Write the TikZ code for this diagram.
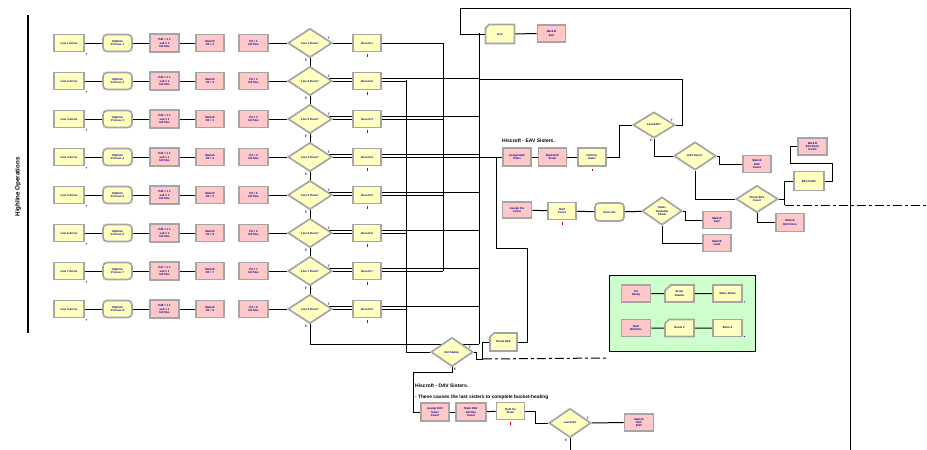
\documentclass[tikz,border=0pt]{standalone}
\usepackage{fontspec}
\setmainfont{Liberation Sans}
\usetikzlibrary{shapes.geometric,shapes.misc,calc}
\definecolor{ayel}{RGB}{255,255,192}
\definecolor{apink}{RGB}{255,200,200}
\definecolor{agreen}{RGB}{204,255,204}
\definecolor{ablue}{RGB}{0,0,140}
\definecolor{aedge}{RGB}{165,165,165}
\definecolor{ared}{RGB}{200,0,0}
\tikzset{
 mod/.style={draw=aedge, line width=1.7pt, minimum width=28pt, minimum height=17pt, inner sep=0pt, align=center, text=ablue, font=\bfseries\fontsize{2.8}{3.2}\selectfont},
 ybox/.style={mod, fill=ayel},
 pbox/.style={mod, fill=apink},
 rbox/.style={ybox, rounded corners=4pt},
 cbox/.style={ybox, chamfered rectangle, chamfered rectangle corners=north west, chamfered rectangle xsep=3pt, chamfered rectangle ysep=3pt},
 ydia/.style={mod, fill=ayel, diamond, aspect=1.5, minimum width=44pt, minimum height=29pt},
 wire/.style={line width=1pt, black},
 ddash/.style={wire, dash pattern=on 9pt off 3pt on 3pt off 3pt},
 tf/.style={font=\bfseries\fontsize{3.2}{3.2}\selectfont, text=ablue, inner sep=0pt},
 note/.style={font=\bfseries\fontsize{5}{6}\selectfont, anchor=west, inner sep=0pt},
 tick/.style={ared, line width=0.7pt},
}
\begin{document}
\begin{tikzpicture}[x=1pt,y=-1pt]
\useasboundingbox (0,0) rectangle (927,450);
% left marker
\coordinate (lt) at (28,15); \coordinate (lb) at (28,333);
\draw[line width=2pt] (lt) -- (lb);
\node[rotate=90, font=\bfseries\fontsize{6.2}{7}\selectfont] (title) at (18,187) {Highline Operations};
% buses
\coordinate (busA) at (443,43);
\coordinate (busB) at (406,80);
\coordinate (busC) at (479,33);
% rows
\foreach \i [evaluate=\i as \y using {43+38*(\i-1)}] in {1,...,8} {
 \node[ybox, minimum width=30pt] (b1-\i) at (69,\y) {Line \i\ Arrive};
 \fill[ablue] ($(b1-\i.south east)+(1.5,1.5)$) circle (0.7pt);
 \node[rbox, minimum width=29pt] (b2-\i) at (117.5,\y) {Highline\\Process \i};
 \node[pbox, minimum width=29pt, minimum height=18pt] (b3-\i) at (164.5,\y) {Pd\i\ = 1 1\\sub 1 1\\bill files};
 \node[pbox] (b4-\i) at (210,\y) {Mark B\\Pd = \i};
 \node[pbox, minimum width=29pt] (b5-\i) at (253.5,\y) {Pd = \i\\bill files};
 \node[ydia] (d-\i) at (310,\y) {Line \i\ Done?};
 \node[ybox] (b6-\i) at (367,\y) {Record \i};
 \draw[tick] ($(b6-\i.south)+(0,2)$) -- ++(0,2.5);
 \node[tf] at ($(d-\i.east)+(-4,-5)$) {T};
 \node[tf] at ($(d-\i.east)+(1,-2)$) {-};
 \node[tf] at ($(d-\i.south)+(-4,2)$) {F};
 \node[tf] at ($(d-\i.south)+(2,2.5)$) {-};
 \draw[wire] (b1-\i) -- (b2-\i);
 \draw[wire] (b2-\i) -- (b3-\i);
 \draw[wire] (b3-\i) -- (b4-\i);
 \draw[wire] (b5-\i) -- (d-\i);
 \draw[wire] (d-\i.east) -- (b6-\i.west);
 \draw[wire] (d-\i.south) -- ++(0,20) coordinate (f-\i) -- (f-\i -| busC);
}
\foreach \i/\bb in {1/busA,2/busB,3/busA,5/busA,6/busB,7/busA,8/busB} {
 \draw[wire] (b6-\i.east) -- (b6-\i.east -| \bb);
}
% top section
\node[cbox, minimum width=29pt, minimum height=19pt] (tb) at (500,34) {Exit};
\node[pbox, minimum height=17pt] (tp) at (551.5,33.5) {Mark B\\Exit};
\draw[wire] (tb) -- (tp);
\coordinate (tl) at (460,8); \coordinate (tr) at (850,8); \coordinate (br) at (850,450);
\draw[wire] (tb.west) -- (tb.west -| tl) -- (tl) -- (tr) -- (br);
% EAV section
\node[note] (eavt) at (502,141) {Hiscroft - EAV Sisters.};
\node[pbox, minimum height=18pt] (pE1) at (517,157) {Assign EAV\\Sister};
\node[pbox, minimum height=18pt] (pE2) at (552.5,157) {Mark EAV\\Sister};
\node[ybox, minimum height=18pt] (yE) at (592,157) {Hold for\\Sister};
\draw[tick] ($(yE.south)+(0,2)$) -- ++(0,2.5);
\node[ydia, minimum width=42pt, minimum height=26pt] (dA) at (654,125) {Last EAV?};
\node[tf] at ($(dA.east)+(-4,-5)$) {T};
\node[tf] at ($(dA.south)+(-3,2)$) {F};
\node[ydia, minimum width=42pt, minimum height=28pt] (dB) at (695,156) {EAV Done?};
\node[pbox, minimum height=17pt] (pF) at (757,164) {Mark B\\EAV\\Count};
\node[ydia, minimum width=42pt, minimum height=27pt] (dC) at (757,199) {Check EAV\\Count};
\node[ybox, minimum width=30pt, minimum height=19pt] (yG) at (809,181) {Batch EAV};
\node[pbox, minimum width=29pt, minimum height=17pt] (pG) at (812.5,146.5) {Mark B\\EAV Done\\Count};
\node[pbox, minimum height=18pt] (pH) at (790,222.5) {Mark B\\EAV Done};
\draw[wire] (busA) -- (b6-7.east -| busA);
\draw[wire] (busB) -- (busB |- 0,352) coordinate (bb2);
\draw[wire] (busC) -- (f-8 -| busC);
\draw[wire] (b6-4.east) -- (pE1.west);
\draw[wire] (pE1) -- (pE2);
\draw[wire] (pE2) -- (yE);
\draw[wire] (yE.east) -- ++(13,0) |- (dA.west);
\coordinate (lp) at (682,79);
\draw[wire] (busC |- lp) -- (lp) |- (dA.east);
\draw[wire] (dA.south) |- (dB.west);
\draw[wire] (dB.east) -- ++(3,0) -- ++(0,6) |- (pF.west);
\draw[wire] (dB.south) |- (dC.west);
\draw[wire] (dC.east) -- ++(6,0) coordinate (cx) -- ++(0,-18) -- (yG.west);
\draw[wire] (yG.east) -- ++(8,0) -- ++(0,-18) -- ++(-42,0) |- (pG.west);
\draw[wire] (dC.south) |- (pH.west);
\coordinate (dash1) at (927,205);
\draw[wire] (cx) -- ++(0,6) coordinate (cy);
\draw[ddash] (cy) -- (dash1);
% lower EAV row
\node[pbox, minimum width=29pt, minimum height=16pt] (pI) at (517,210) {Assign Sis\\Count};
\node[ybox, minimum height=17pt] (yI) at (562,211) {Hold\\Count};
\draw[tick] ($(yI.south)+(0,2)$) -- ++(0,2.5);
\node[rbox, minimum width=29pt, minimum height=18pt] (rI) at (609.5,212) {Seize Sis};
\node[ydia, minimum width=40pt, minimum height=28pt] (dD) at (662,211) {Sister\\Available\\Check};
\node[pbox, minimum height=17pt] (pJ) at (717,220) {Mark B\\EAV};
\node[pbox, minimum height=17pt] (pK) at (717,243) {Mark B\\Used};
\draw[wire] (pI) -- (yI);
\draw[wire] (yI) -- (rI);
\draw[wire] (rI) -- (dD);
\draw[wire] (dD.east) -- ++(3,0) -- ++(0,7) |- (pJ.west);
\draw[wire] (dD.south) |- (pK.west);
% loop back
\node[cbox, minimum width=27pt, minimum height=18pt] (yL) at (503.5,342) {Route EAV};
\coordinate (lq) at (496,157);
\coordinate (lr) at (527,248);
\draw[wire] (yL.east) -| (lr) -| (lq);
% green box
\node[draw=black, line width=1pt, fill=agreen, minimum width=146pt, minimum height=76pt, inner sep=0pt] (grn) at (682.5,313.5) {};
\foreach \j/\yy/\ta/\tb/\tc in {1/293.5/{Sis\\Ready}/{Sister\\Station}/{Sister Route},2/328/{Start\\Bill Files}/{Route 2}/{Enter 2}} {
 \node[pbox, minimum width=29pt, minimum height=17pt] (gp\j) at (636,\yy) {\ta};
 \node[cbox, minimum width=29pt, minimum height=17pt] (gy\j) at (679.5,\yy) {\tb};
 \node[ybox, minimum width=29pt, minimum height=17pt] (gz\j) at (727.5,\yy) {\tc};
 \fill[ablue] ($(gz\j.south east)+(1.5,-1)$) circle (0.6pt);
 \draw[wire] (gp\j) -- (gy\j);
 \draw[wire] (gy\j) -- (gz\j);
}
% DAV section
\node[ydia, minimum width=42pt, minimum height=29pt] (dE) at (452,352) {Ret Station};
\node[tf] at ($(dE.east)+(-4,-5)$) {T};
\node[tf] at ($(dE.south)+(3,2)$) {F};
\draw[wire] (bb2) -- (dE.west);
\draw[wire] (dE.east) -- ++(3,0) -- ++(0,7) coordinate (ex) -- ++(6,0) coordinate (ey) |- (yL.west);
\coordinate (dash2) at (607,358);
\draw[ddash] (ey) -- (dash2);
\node[note] (davt) at (415,386) {Hiscroft - DAV Sisters.};
\node[note, font=\bfseries\fontsize{4.8}{5}\selectfont] (davn) at (415,397) {- These causes the last sisters to complete bucket-heating};
\node[pbox, minimum width=28pt, minimum height=18pt] (pL) at (435,412) {Assign DAV\\Sister\\Count};
\node[pbox, minimum width=30pt, minimum height=18pt] (pM) at (471,412) {Mark DAV\\bill files\\Count};
\node[ybox, minimum width=28pt, minimum height=17pt] (yM) at (510.5,411) {Hold for\\Sister};
\draw[tick] ($(yM.south)+(0,2)$) -- ++(0,2.5);
\node[ydia, minimum width=42pt, minimum height=29pt] (dF) at (570,423) {Last DAV};
\node[tf] at ($(dF.east)+(-4,-5)$) {T};
\node[tf] at ($(dF.south)+(-4,2)$) {F};
\node[pbox, minimum width=29pt, minimum height=17pt] (pN) at (639,422.5) {Mark B\\DAV\\EAV};
\coordinate (dl) at (413,412);
\draw[wire] (dE.south) -- ++(0,5) -| (dl) -- (pL.west);
\draw[wire] (pL) -- (pM);
\draw[wire] (pM) -- (yM);
\draw[wire] (yM.east) -- ++(10,0) |- (dF.west);
\draw[wire] (dF.east) -- (pN.west);
\coordinate (dfb) at (570,450);
\draw[wire] (dF.south) -- (dfb);
\end{tikzpicture}
\end{document}
